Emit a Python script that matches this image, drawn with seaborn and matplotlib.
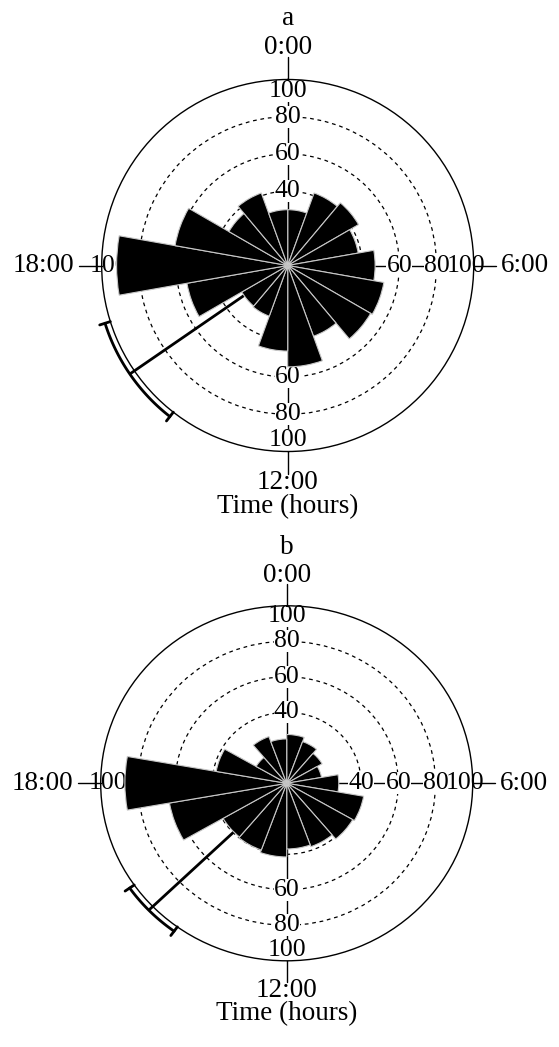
import numpy as np
import matplotlib
matplotlib.use("Agg")
import matplotlib.pyplot as plt
import seaborn as sns

# ---- data -------------------------------------------------------------
bin_starts = ["0:00", "1:20", "2:40", "4:00", "5:20", "6:40", "8:00", "9:20",
              "10:40", "12:00", "13:20", "14:40", "16:00", "17:20", "18:40",
              "20:00", "21:20", "22:40"]
counts_a = [30, 41.5, 44, 38.5, 47, 52.5, 51.5, 40.5, 54.5, 46, 29, 28.5,
            55, 92, 61.5, 36.5, 41.5, 30]
counts_b = [27.5, 25, 22, 19, 28, 42, 41, 38, 37, 41.5, 40, 39.5,
            64, 87, 38.5, 19, 28, 25]
mean_a_hours = 15.7
ci_a_hours = [14.53, 16.83]
mean_b_hours = 15.07
ci_b_hours = [14.4, 15.67]
ring_values = [40, 60, 80, 100]
ring_labels = ["40", "60", "80", "100"]
time_labels = ["0:00", "6:00", "12:00", "18:00"]
panel_names = ["a", "b"]
axis_title = "Time (hours)"

# ---- style ------------------------------------------------------------
sns.set_theme(style="white")
plt.rcParams["font.family"] = ["Liberation Serif", "DejaVu Serif"]
plt.rcParams["text.color"] = "black"

W, H = 559, 1047
fig = plt.figure(figsize=(W / 100, H / 100), dpi=100)


def to_hours(s):
    h, m = s.split(":")
    return int(h) + int(m) / 60


def h2t(h):
    return np.asarray(h, dtype=float) / 24.0 * 2 * np.pi


starts_h = np.array([to_hours(s) for s in bin_starts])
bin_w_h = 24 / len(bin_starts)
centers = h2t(starts_h + bin_w_h / 2)
width = h2t(bin_w_h)


def add_polar(cx, cy, rx, ry):
    ax = fig.add_axes([(cx - rx) / W, 1 - (cy + ry) / H, 2 * rx / W, 2 * ry / H],
                      projection="polar")
    ax.set_aspect("auto")
    return ax


def bar_at(counts, hour):
    """largest bar whose span touches the given direction"""
    c = np.asarray(counts)
    lo = starts_h
    hi = starts_h + bin_w_h
    h = hour % 24
    m = ((lo <= h + 1e-9) & (hi >= h - 1e-9)) | ((h == 0) & (hi >= 24 - 1e-9))
    return c[m].max()


def rose(ax, counts, mean_h, ci_h, name):
    ax.set_theta_zero_location("N")
    ax.set_theta_direction(-1)
    ax.set_facecolor("white")
    ax.set_ylim(0, 100)
    ax.set_xticks([])
    ax.set_yticks(ring_values[:-1])
    ax.set_yticklabels([])
    ax.set_axisbelow(True)
    ax.yaxis.grid(True, color="black", lw=0.9, ls=(0, (3, 3)))
    ax.xaxis.grid(False)
    ax.spines["polar"].set_color("black")
    ax.spines["polar"].set_linewidth(1.0)

    for d in [0, 6, 12, 18]:
        th = h2t(d)
        ax.plot([th, th], [0, 100], color="black", lw=1.0, clip_on=False, zorder=1.5)
        ax.plot([th, th], [100, 112], color="black", lw=1.0, clip_on=False, zorder=2.2)
        reach = bar_at(counts, d)
        for v, lab in zip(ring_values, ring_labels):
            if v < 100 and reach >= v - 5:
                continue  # hidden under the bars
            if v < 100:
                r = v
            else:
                r = 94 if d in (0, 12) else 96
            # white knock-out behind the label (hides lines only)
            ax.text(th, r, lab, ha="center", va="center", fontsize=18.5, color="none",
                    zorder=2.0, bbox=dict(facecolor="white", edgecolor="none", pad=0.0))
            # the label itself, above every knock-out
            ax.text(th, r, lab, ha="center", va="center", fontsize=18.5, color="black",
                    zorder=2.1)

    ax.bar(centers, counts, width=width, color="black", edgecolor="#c8c8c8",
           linewidth=0.8, zorder=3, align="center")

    tm = h2t(mean_h)
    ax.plot([tm, tm], [0, 103], color="black", lw=2.0, clip_on=False, zorder=2.8,
            solid_capstyle="butt")
    arc = np.linspace(h2t(ci_h[0]), h2t(ci_h[1]), 60)
    ax.plot(arc, np.full_like(arc, 103), color="black", lw=2.0, clip_on=False, zorder=4)
    for c in ci_h:
        tc = h2t(c)
        ax.plot([tc, tc], [100, 106], color="black", lw=2.0, clip_on=False, zorder=4)

    fs = 19.5
    ax.text(0, 133, name, ha="center", va="center", fontsize=fs)
    ax.text(0, 117, time_labels[0], ha="center", va="center", fontsize=fs)
    ax.text(h2t(6), 114.5, time_labels[1], ha="left", va="center", fontsize=fs)
    ax.text(h2t(12), 116.5, time_labels[2], ha="center", va="center", fontsize=fs)
    ax.text(h2t(18), 114.5, time_labels[3], ha="right", va="center", fontsize=fs)
    ax.text(h2t(12), 129.5, axis_title, ha="center", va="center", fontsize=fs)


ax_a = add_polar(287.7, 265.5, 186, 186)
rose(ax_a, counts_a, mean_a_hours, ci_a_hours, panel_names[0])
ax_b = add_polar(286.7, 783.3, 186, 177.5)
rose(ax_b, counts_b, mean_b_hours, ci_b_hours, panel_names[1])

fig.savefig("out.png", dpi=100, facecolor="white")
